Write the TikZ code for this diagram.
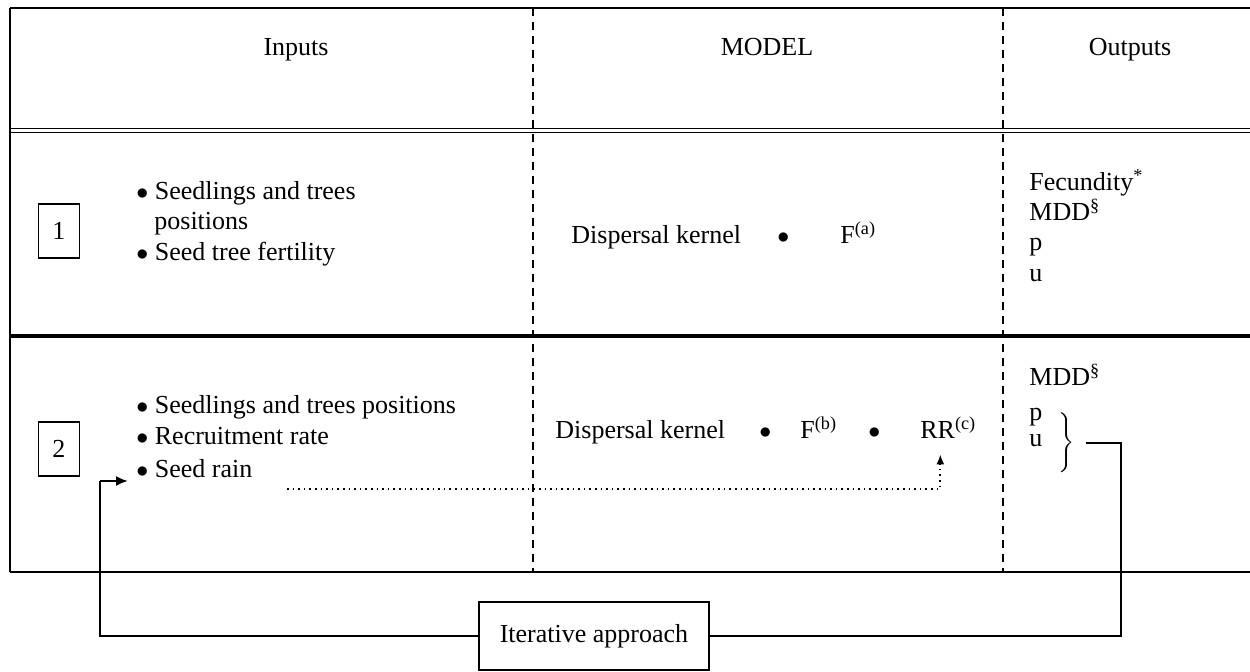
\documentclass[tikz,border=0pt]{standalone}
\usepackage{fontspec}
\setmainfont{Liberation Serif}
\usetikzlibrary{positioning}
\usetikzlibrary{math}
\usetikzlibrary{arrows.meta}
\tikzset{numbox/.style={draw, line width=0.7pt, minimum width=20.5pt, minimum height=27pt, inner sep=0pt},
	txt/.style={anchor=base west, inner sep=0pt},
	sepline/.style={line width=#1},sepline/.default={0.6pt},
	colsep/.style={line width=1pt, dash pattern=on 4pt off 3pt},
	loopline/.style={line width=1pt}}
\newcommand{\itm}{$\bullet$\ }

\begin{document}
\begin{tikzpicture}[x=0.5pt,y=-0.5pt,font=\fontsize{13}{15}\selectfont]
	\tikzmath{\xl=10; \xr=1250; \ytop=8; \ydbl=128.5; \ythk=336; \ybot=572;
	\colA=533; \colB=1003;
	\inx=136; \outx=1029;}
	\useasboundingbox (0,0) rectangle (1250,671);
	\draw[sepline=1.2pt] (\xl,\ytop) -- (\xr,\ytop);
	\draw[sepline=0.7pt] (\xl,\ydbl) -- (\xr,\ydbl);
	\draw[sepline=0.7pt] (\xl,\ydbl+4) -- (\xr,\ydbl+4);
	\draw[sepline=2pt] (\xl,\ythk) -- (\xr,\ythk);
	\draw[sepline] (\xl,\ybot) -- (\xr,\ybot);
	\draw[sepline=1pt] (\xl,\ytop) -- (\xl,\ybot);
	\draw[colsep] (\colA,\ytop) -- (\colA,\ybot);
	\draw[colsep] (\colB,\ytop) -- (\colB,\ybot);

	\node (inputs) at (296,55) [anchor=base] {Inputs};
	\node (model) at (767,55) [anchor=base] {MODEL};
	\node (outputs) at (1130,55) [anchor=base] {Outputs};

	\node[numbox] (one) at (59,231) {1};
	\node[txt] (ina) at (\inx,199) {\itm Seedlings and trees};
	\node[txt] (inb) at (154,229) {positions};
	\node[txt] (inc) at (\inx,260) {\itm Seed tree fertility};
	\node[txt] (dka) at (571,243) {Dispersal kernel};
	\node[txt] (dota) at (777,243) {$\bullet$};
	\node[txt] (fa) at (840,243) {F\textsuperscript{(a)}};
	\node[txt] (fec) at (\outx,190) {Fecundity\textsuperscript{*}};
	\node[txt] (mdda) at (\outx,220) {MDD\textsuperscript{\S}};
	\node[txt] (pa) at (\outx,250) {p};
	\node[txt] (ua) at (\outx,281) {u};

	\node[numbox] (two) at (59,449) {2};
	\node[txt] (ind) at (\inx,413) {\itm Seedlings and trees positions};
	\node[txt] (ine) at (\inx,444) {\itm Recruitment rate};
	\node[txt] (srain) at (\inx,477) {\itm Seed rain};
	\node[txt] (dkb) at (555,438) {Dispersal kernel};
	\node[txt] (dotb) at (759,438) {$\bullet$};
	\node[txt] (fb) at (800,438) {F\textsuperscript{(b)}};
	\node[txt] (dotc) at (868,438) {$\bullet$};
	\node[txt] (rr) at (920,438) {RR\textsuperscript{(c)}};
	\node[txt] (mddb) at (\outx,385) {MDD\textsuperscript{\S}};
	\node[txt] (pb) at (\outx,420) {p};
	\node[txt] (ub) at (\outx,446) {u};
	\node[inner sep=0pt] (pubrace) at (1065,443) {$\left.\vcenter{\hbox{\rule{0pt}{30pt}}}\right\}$};

	\node[draw, line width=0.7pt, minimum width=115pt, minimum height=34pt, inner sep=0pt] (iter) at (594,636) {Iterative approach};

	\coordinate (dotstart) at (287,489);
	\coordinate (loopin) at (100,481);
	\draw[line width=0.9pt, dash pattern=on 0.8pt off 2pt, -{Latex[length=5pt,width=4pt]}, shorten >=8pt] (dotstart) -| ([xshift=-4]rr.south);
	\draw[loopline] ([xshift=5.5]pubrace.east) -- ++(35,0) |- (iter.east);
	\draw[loopline] (iter.west) -| (loopin);
	\draw[loopline, -{Latex[length=6pt,width=5pt]}, shorten >=4pt] (loopin) -- (loopin -| srain.west);
\end{tikzpicture}
\end{document}
